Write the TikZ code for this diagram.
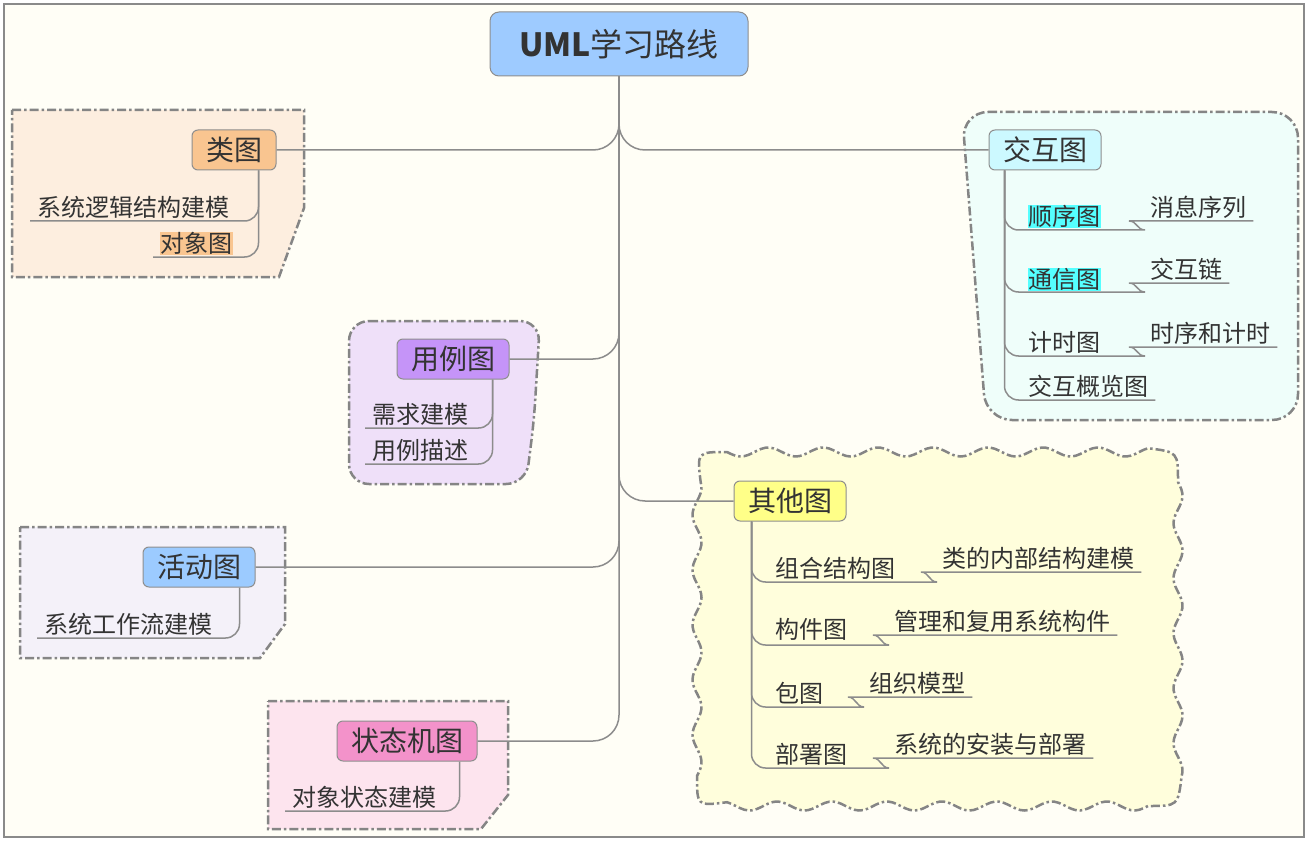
\documentclass[tikz,border=0pt]{standalone}
\usepackage{fontspec}
\setmainfont{Noto Sans CJK SC}
\usepackage{xcolor}
\usepackage{tikz}
\usetikzlibrary{positioning,calc}

\definecolor{paper}{HTML}{FFFEF6}
\definecolor{framegray}{HTML}{8A8A8A}
\definecolor{linkgray}{HTML}{8C8C8C}
\definecolor{boxgray}{HTML}{8E8E8E}
\definecolor{zonegray}{HTML}{858585}
\definecolor{txt}{HTML}{333333}
\definecolor{rootblue}{HTML}{9ECBFF}
\definecolor{leiorange}{HTML}{F9C590}
\definecolor{jhcyan}{HTML}{CCF9FF}
\definecolor{ylpurple}{HTML}{C594F8}
\definecolor{qtyellow}{HTML}{FFFF88}
\definecolor{hdblue}{HTML}{9CCBFF}
\definecolor{ztpink}{HTML}{F392CA}
\definecolor{hlcyan}{HTML}{55FFFF}
\definecolor{leizone}{HTML}{FDEEDF}
\definecolor{ylzone}{HTML}{EFE0F9}
\definecolor{jhzone}{HTML}{EFFEFA}
\definecolor{qtzone}{HTML}{FFFEDC}
\definecolor{hdzone}{HTML}{F4F1F9}
\definecolor{ztzone}{HTML}{FDE4EE}

\newcommand{\hlbox}[2]{{\setlength{\fboxsep}{0.5pt}\colorbox{#1}{#2}}}

\tikzset{
  link/.style={draw=linkgray, line width=1.5pt},
  rootbox/.style={draw=boxgray, line width=1pt, rounded corners=9pt, fill=rootblue,
    minimum width=258pt, minimum height=64pt, font=\fontsize{32}{36}\selectfont, text=txt},
  topic/.style={draw=boxgray, line width=1pt, rounded corners=6pt, minimum height=40pt,
    inner xsep=14pt, inner ysep=0pt, font=\fontsize{28}{32}\selectfont, text=txt},
  leaf/.style={anchor=south west, inner xsep=7pt, inner ysep=2pt,
    font=\fontsize{24}{28}\selectfont, text=txt},
  zone/.style={draw=zonegray, line width=2.5pt, dash pattern=on 9pt off 3pt on 2.5pt off 3pt},
}

\begin{document}
\begin{tikzpicture}[x=1pt, y=-1pt]
  \useasboundingbox (0,0) rectangle (1309,845);
  \draw[draw=framegray, line width=1.2pt, fill=paper] (4,4) rectangle (1304,837);

  % group outlines
  \draw[zone, fill=leizone] (12,110) -- (304,110) -- (304,208) -- (279,277) -- (12,277) -- cycle;
  \draw[zone, fill=hdzone] (20,527) -- (285,527) -- (285,624) -- (260,658) -- (20,658) -- cycle;
  \draw[zone, fill=ztzone] (268,701) -- (508,701) -- (508,795) -- (481,829) -- (268,829) -- cycle;
  \draw[zone, fill=ylzone, rounded corners=20pt] (349,321) -- (540,321) -- (534,420) -- (526,484) -- (349,484) -- cycle;
  \draw[zone, fill=jhzone, rounded corners=26pt] (962,112) -- (1298,112) -- (1298,420) -- (986,420) -- cycle;
  % wavy outline round the other diagrams
  \draw[zone, fill=qtzone]
    plot[domain=727:1148, samples=100] (\x,{452+4.5*sin(6.55*(\x-727))})
    .. controls (1178,452) .. (1178,482)
    -- plot[domain=482:776, samples=80] ({1178+4.5*sin(6.55*(\x-482))},\x)
    .. controls (1178,806) .. (1148,806)
    -- plot[domain=1148:727, samples=100] (\x,{806-4.5*sin(6.55*(\x-1148))})
    .. controls (697,806) .. (697,776)
    -- plot[domain=776:482, samples=80] ({697-4.5*sin(6.55*(\x-776))},\x)
    .. controls (697,452) .. (727,452) -- cycle;

  % main nodes
  \node[rootbox] (root) at (619,44) {\textbf{UML}学习路线};
  \node[topic, fill=leiorange] (lei) at (234,150) {类图};
  \node[topic, fill=jhcyan] (jh) at (1045,150) {交互图};
  \node[topic, fill=ylpurple] (yl) at (453,359) {用例图};
  \node[topic, fill=qtyellow] (qt) at (790,501) {其他图};
  \node[topic, fill=hdblue] (hd) at (199,567) {活动图};
  \node[topic, fill=ztpink] (zt) at (407,741) {状态机图};

  % leaves
  \node[leaf] (lei1) at (30,221) {系统逻辑结构建模};
  \node[leaf] (lei2) at (153,257) {\hlbox{leiorange}{对象图}};
  \node[leaf] (yl1) at (365,428) {需求建模};
  \node[leaf] (yl2) at (365,464) {用例描述};
  \node[leaf] (hd1) at (37,638) {系统工作流建模};
  \node[leaf] (zt1) at (285,811) {对象状态建模};

  \node[leaf] (jh1) at (1021,230) {\hlbox{hlcyan}{顺序图}};
  \node[leaf] (jh2) at (1021,293) {\hlbox{hlcyan}{通信图}};
  \node[leaf] (jh3) at (1021,356) {计时图};
  \node[leaf] (jh4) at (1021,400) {交互概览图};
  \node[leaf] (jh1b) at (1143,221) {消息序列};
  \node[leaf] (jh2b) at (1143,283) {交互链};
  \node[leaf] (jh3b) at (1143,347) {时序和计时};

  \node[leaf] (qt1) at (768,582) {组合结构图};
  \node[leaf] (qt2) at (768,643) {构件图};
  \node[leaf] (qt3) at (768,707) {包图};
  \node[leaf] (qt4) at (768,768) {部署图};
  \node[leaf] (qt1b) at (935,572) {类的内部结构建模};
  \node[leaf] (qt2b) at (887,635) {管理和复用系统构件};
  \node[leaf] (qt3b) at (862,697) {组织模型};
  \node[leaf] (qt4b) at (887,758) {系统的安装与部署};

  % spines
  \coordinate (leiS) at ($(lei.south east)+(-18,0)$);
  \coordinate (ylS) at ($(yl.south east)+(-17,0)$);
  \coordinate (hdS) at ($(hd.south east)+(-16,0)$);
  \coordinate (ztS) at ($(zt.south east)+(-18,0)$);
  \coordinate (jhS) at ($(jh.south west)+(16,0)$);
  \coordinate (qtS) at ($(qt.south west)+(18,0)$);

  % branches from the root
  \foreach \t in {lei,yl,hd,zt}
    \draw[link, rounded corners=26pt] (root.south) |- (\t.east);
  \foreach \t in {jh,qt}
    \draw[link, rounded corners=26pt] (root.south) |- (\t.west);

  % children
  \draw[link, rounded corners=14pt] (leiS) |- (lei1.south west);
  \draw[link, rounded corners=14pt] (leiS) |- (lei2.south west);
  \draw[link, rounded corners=14pt] (ylS) |- (yl1.south west);
  \draw[link, rounded corners=14pt] (ylS) |- (yl2.south west);
  \draw[link, rounded corners=14pt] (hdS) |- (hd1.south west);
  \draw[link, rounded corners=14pt] (ztS) |- (zt1.south west);

  \foreach \b in {jh1b,jh2b,jh3b}
    \draw[link, rounded corners=14pt] (jhS) |- ($(\b.south west)+(-12,9)$)
      to[out=0, in=180] (\b.south west) -- (\b.south east);
  \draw[link, rounded corners=14pt] (jhS) |- (jh4.south east);

  \foreach \b in {qt1b,qt2b,qt3b,qt4b}
    \draw[link, rounded corners=14pt] (qtS) |- ($(\b.south west)+(-12,10)$)
      to[out=0, in=180] (\b.south west) -- (\b.south east);
\end{tikzpicture}
\end{document}
